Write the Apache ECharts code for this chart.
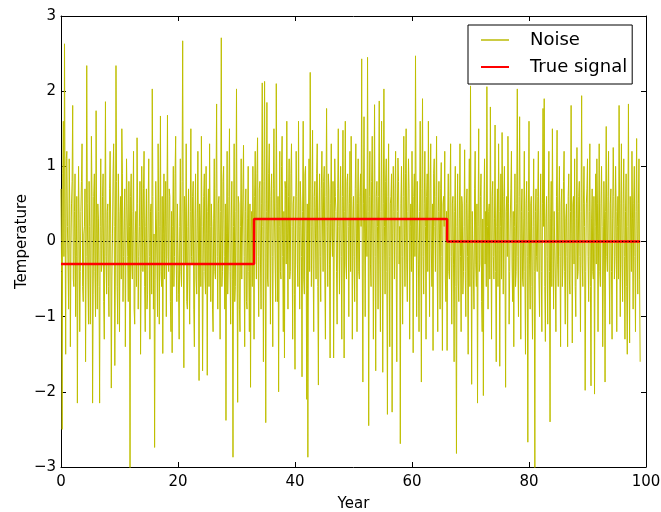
<!DOCTYPE html>
<html>
<head>
<meta charset="utf-8">
<script src="https://cdn.jsdelivr.net/npm/echarts@6/dist/echarts.min.js"></script>
<style>html,body{margin:0;padding:0;background:#fff}#c{width:661px;height:512px}</style>
</head>
<body>
<div id="c"></div>
<script>
// Noise values, one every 0.1 year starting at year 0 (read/estimated from the picture)
const noiseStep = 0.1;
const noise = [
0.7,-0.4,-2.5,0.9,1.6,-0.2,2.63,0.3,-1.5,1.1,
1.2,0.2,-0.3,-0.9,1.1,0.5,-1.4,-0.1,0.5,0.8,
1.81,-0.5,-0.6,0.4,0.9,-1.0,-0.2,0.6,-2.15,-0.3,
1.0,0.3,-1.2,-0.4,0.4,0.8,1.3,-0.6,-0.8,0.1,
0.2,0.7,-1.6,-0.2,2.34,0.5,-0.5,-1.1,0.8,0.2,
-1.1,-0.3,1.4,0.6,-2.15,-0.7,0.6,0.9,-0.4,-1.0,
1.74,0.1,-0.9,0.5,0.3,-0.6,-2.15,0.2,1.1,-0.4,
-0.3,0.6,0.9,-0.8,-1.3,0.3,1.86,-0.2,-0.7,0.4,
0.5,-0.6,-1.0,0.7,1.2,0.1,-1.95,-0.5,0.1,0.9,
1.3,0.2,-1.65,-0.3,2.34,0.8,-0.6,-1.1,0.9,0.4,
-1.2,0.3,0.6,-0.5,1.5,0.9,-0.8,-0.2,0.3,0.7,
-1.4,-0.1,1.1,0.5,-0.2,-0.8,0.8,0.2,-3.05,0.6,
0.9,-0.3,-0.5,0.4,1.2,-0.9,-1.1,0.1,0.4,-0.6,
1.38,0.5,-0.9,-0.2,0.2,0.8,-1.5,-0.4,1.0,0.3,
-0.4,0.7,1.2,-0.6,-1.2,0.2,0.7,-0.9,-0.7,0.5,
1.1,-0.2,-1.3,0.4,0.5,-0.7,2.03,0.6,-0.9,0.1,
-2.74,-0.5,0.8,0.3,-0.3,-1.0,1.3,0.4,-1.1,0.2,
1.67,-0.4,-0.6,0.6,-1.49,0.1,0.9,-0.5,0.2,0.8,
-1.0,0.3,1.68,-0.2,-0.4,0.7,0.6,-0.8,-1.2,0.4,
-1.48,0.2,1.0,-0.6,-0.2,0.9,1.4,-0.3,-0.8,0.5,
0.5,-0.7,-1.3,0.2,1.1,-0.4,-0.6,0.8,2.67,0.1,
-1.68,0.6,0.4,-0.3,1.3,-0.8,-0.9,0.2,0.7,-0.5,
-1.1,0.4,1.5,-0.2,-0.3,0.6,0.8,-0.9,-1.4,0.3,
0.9,-0.5,-0.7,0.3,1.2,-0.1,-1.85,0.5,0.3,-0.6,
1.4,0.2,-1.72,-0.4,0.6,0.9,-0.4,-0.7,1.0,0.1,
-1.78,0.4,0.7,-0.6,1.3,0.2,-0.8,0.5,0.2,-0.9,
-1.2,0.3,1.1,-0.4,-0.5,0.7,1.83,-0.2,-0.9,0.5,
0.6,-0.3,-1.3,0.4,2.71,-0.6,-0.4,0.8,1.0,-0.2,
-0.9,0.5,-2.38,0.1,1.2,-0.7,-0.3,0.6,1.5,-0.4,
-1.1,0.3,0.8,-0.5,-2.87,0.2,1.3,-0.8,-0.6,0.4,
2.03,-0.3,-2.14,0.6,0.5,-0.9,-1.2,0.2,1.1,-0.5,
-0.5,0.7,1.28,-0.2,-1.4,0.4,0.7,-0.8,-0.9,0.3,
1.0,-0.4,-1.2,0.5,-1.94,0.1,0.4,-0.6,1.0,0.2,
-1.3,0.6,1.2,0.1,-0.5,0.9,1.38,-0.2,-1.0,0.7,
0.8,-0.3,-0.9,0.5,2.11,0.2,-1.6,0.8,2.13,-0.1,
-2.41,0.4,1.85,-0.5,-0.6,0.9,1.3,0.1,-1.1,0.6,
0.9,-0.2,-1.4,0.7,1.5,0.3,-0.3,-0.8,2.1,0.5,
-0.8,0.6,-2.0,0.2,1.2,-0.4,-0.5,1.0,1.4,-0.2,
-1.2,0.4,-1.55,0.8,0.7,-0.3,1.6,0.1,-0.9,0.6,
1.1,-0.5,-0.4,0.9,1.3,0.2,-1.3,0.5,0.6,-0.7,
-1.7,0.3,1.2,0.6,-0.3,-0.6,1.6,0.2,-0.9,0.8,
0.5,-0.2,-1.8,0.4,1.6,-0.5,-0.7,0.9,1.0,0.1,
-2.1,0.5,-2.87,0.3,1.1,-0.4,2.25,0.7,-0.6,0.2,
1.48,-0.3,-1.2,0.6,0.8,0.1,-0.5,0.9,1.3,-0.6,
-1.91,0.4,0.9,-0.2,-0.8,0.7,1.2,0.3,-0.4,0.8,
1.0,-0.5,-1.3,0.6,1.77,0.2,-0.6,0.9,0.7,-0.3,
-1.55,0.5,1.3,0.1,-0.2,0.8,-1.55,-0.1,1.1,0.6,
0.4,-0.4,-1.1,0.7,1.5,0.2,-0.7,0.5,1.0,-0.2,
-1.3,0.6,1.48,0.1,-1.55,0.4,1.6,-0.3,-0.5,0.8,
0.9,0.2,-1.0,0.5,1.2,-0.4,1.4,0.6,-1.3,0.3,
0.6,-0.2,-0.8,0.7,1.3,0.1,-1.2,0.5,1.1,-0.4,
-0.5,0.6,0.9,0.2,2.43,-0.3,-1.87,0.5,1.66,0.1,
-1.0,0.7,0.7,-0.2,2.45,0.4,-2.45,0.6,1.2,-0.3,
-0.6,0.8,1.4,0.1,-1.3,0.5,1.82,-0.2,-1.72,0.6,
0.8,0.2,-0.9,0.6,1.87,-0.3,-1.2,0.4,1.6,0.1,
-1.74,0.5,2.03,0.2,-0.7,0.8,1.1,-0.4,-2.3,0.6,
1.3,-0.2,-1.4,0.5,0.6,0.9,-2.27,0.1,1.0,0.4,
-0.5,0.7,1.2,-0.3,-1.6,0.4,1.11,0.8,-0.3,0.2,
-2.69,0.5,1.0,-0.2,-1.1,0.6,1.4,0.1,-0.6,0.9,
1.5,-0.3,-0.8,0.4,1.1,0.7,-1.3,0.2,0.5,-0.4,
1.2,0.3,-1.48,0.6,0.9,-0.2,2.47,0.5,-1.0,0.8,
0.8,-0.3,-1.2,0.4,1.6,0.1,-1.87,0.7,1.9,-0.2,
-0.7,0.5,1.2,0.2,-1.3,0.6,0.9,-0.4,1.6,0.3,
-1.0,0.7,1.3,-0.1,-0.6,0.5,-1.45,0.9,1.1,0.2,
-0.4,0.6,1.4,-0.3,-1.2,0.4,0.8,0.1,-0.9,0.7,
1.05,-0.2,-1.45,0.5,0.6,0.2,1.2,-0.5,-0.8,0.4,
-1.45,0.3,0.9,-0.4,-0.5,0.6,1.3,-0.2,-1.1,0.5,
0.6,-0.3,-1.6,0.4,1.0,-0.6,-2.82,0.2,0.9,-0.5,
-0.8,0.3,1.3,-0.2,-1.2,0.6,0.5,-0.7,-0.4,0.2,
1.22,-0.4,-1.0,0.5,0.7,-0.2,-1.5,0.3,1.1,-0.6,
2.07,0.1,-1.9,0.4,0.4,-0.5,-0.9,0.7,1.2,-0.3,
-0.6,0.5,-2.15,0.2,1.5,-0.4,-0.3,0.6,0.9,-0.8,
-1.2,0.3,-2.05,0.5,1.1,-0.3,0.4,-0.6,2.06,0.2,
-0.9,0.4,0.5,-0.5,1.79,0.1,-1.3,0.6,0.8,-0.2,
-0.5,0.3,1.55,-0.4,-1.6,0.2,0.7,-0.6,1.3,0.4,
-1.66,0.2,0.9,-0.5,1.45,0.3,-0.7,0.6,1.0,-0.3,
-1.94,0.4,0.6,-0.2,1.4,0.5,-1.1,-0.4,0.3,0.7,
1.2,-0.3,-0.8,0.4,-1.4,0.2,0.9,-0.6,-0.4,0.5,
2.03,-0.2,-1.0,0.6,1.66,0.1,-1.3,0.4,0.7,-0.5,
-0.6,0.3,1.2,-0.4,-1.5,0.5,0.8,-0.2,-2.67,0.4,
1.6,-0.3,-0.9,0.5,0.6,-0.6,-1.3,0.2,1.1,-0.4,
-3.05,0.4,0.7,-0.2,-0.4,0.6,1.2,-0.5,-1.0,0.3,
0.9,-0.4,-1.2,0.5,1.77,0.2,1.9,-0.6,-1.33,0.3,
0.6,-0.2,-1.1,0.5,1.2,-0.4,-2.4,0.3,0.8,-0.6,
1.5,0.2,-0.9,0.4,0.4,-0.5,-1.2,0.6,1.48,-0.3,
-0.6,0.4,1.0,-0.2,-1.4,0.5,0.7,-0.6,-0.3,0.8,
1.2,-0.4,-1.1,0.3,0.5,-0.2,-1.4,0.6,0.9,-0.5,
-0.7,0.4,1.81,0.1,-1.35,0.5,0.6,-0.3,1.1,-0.6,
-1.0,0.3,1.25,-0.5,-0.4,0.6,0.8,-0.2,-1.2,0.4,
1.94,-0.3,-0.6,0.5,1.0,0.2,-1.98,-0.4,0.5,0.7,
1.1,-0.2,-0.8,0.4,1.3,-0.6,-1.92,0.3,0.7,-0.4,
-0.5,0.6,-2.03,0.2,0.9,-0.3,1.1,0.5,-1.2,0.1,
1.3,-0.4,-0.6,0.5,1.0,0.2,-1.4,-0.5,0.8,0.3,
-1.87,0.4,1.53,-0.2,-0.4,0.6,1.2,-0.3,-1.1,0.5,
0.7,-0.4,-1.3,0.3,1.25,0.6,-0.5,-0.2,1.0,0.4,
-1.2,0.2,0.6,-0.5,1.81,0.3,-1.0,0.5,1.3,-0.3,
-0.8,0.5,1.1,-0.2,-1.3,0.4,0.9,-0.6,-1.5,0.2,
1.83,-0.3,-1.35,0.6,0.6,-0.4,1.2,0.3,-0.9,0.5,
1.0,-0.2,-1.2,0.4,1.37,0.1,-0.7,0.5,1.1,-0.5,
-1.6
];
// True signal (step function)
const signalYears = [0, 33, 33, 66, 66, 99];
const signalValues = [-0.3, -0.3, 0.3, 0.3, 0, 0];
// Axis ticks
const xTicks = [0, 20, 40, 60, 80, 100];
const yTicks = [-3, -2, -1, 0, 1, 2, 3];

const noiseData = noise.map((v, i) => [+(i * noiseStep).toFixed(2), v]);
const signalData = signalYears.map((x, i) => [x, signalValues[i]]);

const FONT = 'DejaVu Sans';
const fmt = v => String(v).replace('-', '\u2212');

const xBase = {
  type: 'value', min: xTicks[0], max: xTicks[xTicks.length - 1], interval: 20,
  splitLine: { show: false },
  axisLine: { show: true, onZero: false, lineStyle: { color: '#000', width: 1 } },
  axisTick: { show: true, inside: true, length: 5, lineStyle: { color: '#000' } }
};
const yBase = {
  type: 'value', min: yTicks[0], max: yTicks[yTicks.length - 1], interval: 1,
  splitLine: { show: false },
  axisLine: { show: true, onZero: false, lineStyle: { color: '#000', width: 1 } },
  axisTick: { show: true, inside: true, length: 5, lineStyle: { color: '#000' } }
};

const chart = echarts.init(document.getElementById('c'), null, { renderer: 'canvas' });
chart.setOption({
  animation: false,
  backgroundColor: '#fff',
  textStyle: { fontFamily: FONT },
  grid: { left: 61, right: 15, top: 16, bottom: 45, containLabel: false, outerBoundsMode: 'none' },
  xAxis: [
    Object.assign({}, xBase, {
      position: 'bottom',
      name: 'Year', nameLocation: 'middle', nameGap: 30,
      nameTextStyle: { fontSize: 15, color: '#000', fontFamily: FONT },
      axisLabel: { show: true, margin: 8, fontSize: 15, color: '#000', fontFamily: FONT, formatter: fmt }
    }),
    Object.assign({}, xBase, { position: 'top', axisLabel: { show: false } })
  ],
  yAxis: [
    Object.assign({}, yBase, {
      position: 'left',
      name: 'Temperature', nameLocation: 'middle', nameGap: 31, nameMoveOverlap: false,
      nameTextStyle: { fontSize: 15, color: '#000', fontFamily: FONT },
      axisLabel: { show: true, margin: 5, fontSize: 15, color: '#000', fontFamily: FONT, formatter: fmt }
    }),
    Object.assign({}, yBase, { position: 'right', axisLabel: { show: false } })
  ],
  legend: {
    orient: 'vertical', left: 468, top: 25,
    padding: [5, 5, 7, 13],
    itemWidth: 28, itemHeight: 2, itemGap: 7,
    icon: 'rect',
    backgroundColor: '#fff', borderColor: '#000', borderWidth: 1, borderRadius: 0,
    textStyle: { fontSize: 18, color: '#000', fontFamily: FONT, lineHeight: 20, padding: [0, 0, 0, 16] },
    data: [
      { name: 'Noise', icon: 'rect', itemStyle: { color: '#cccc44' } },
      { name: 'True signal', icon: 'rect', itemStyle: { color: '#ff0000' } }
    ]
  },
  series: [
    {
      name: 'Noise', type: 'line', data: noiseData, xAxisIndex: 0, yAxisIndex: 0,
      symbol: 'none', showSymbol: false, z: 2,
      lineStyle: { color: '#bfbf00', width: 1 }, itemStyle: { color: '#bfbf00' }
    },
    {
      name: 'True signal', type: 'line', data: signalData, xAxisIndex: 0, yAxisIndex: 0,
      symbol: 'none', showSymbol: false, z: 3,
      lineStyle: { color: '#ff0000', width: 2.5 }, itemStyle: { color: '#ff0000' }
    },
    {
      name: 'zero', type: 'line', data: [], xAxisIndex: 0, yAxisIndex: 0, z: 4,
      markLine: {
        silent: true, symbol: ['none', 'none'], label: { show: false },
        lineStyle: { color: '#000', width: 1, type: [1.2, 2.2] },
        emphasis: { disabled: true },
        data: [{ yAxis: 0 }]
      }
    }
  ]
});
</script>
</body>
</html>
